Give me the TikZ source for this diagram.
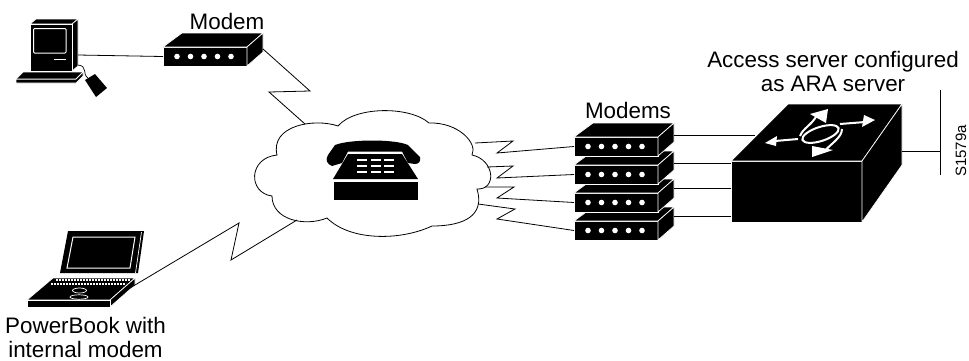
\documentclass[tikz,border=0pt]{standalone}
\usepackage{fontspec}
\setmainfont{Liberation Sans}
\usetikzlibrary{calc, positioning}

\newcommand{\modembox}[2]{
    \node[modemfront] (#1) at (#2) {};
    \path[solidpart] (#1.north west) -- ++(19,-14) -- ++(81,0) -- (#1.north east) -- cycle;
    \path[solidpart] (#1.north east) -- ++(16,-14) -- ++(0,19) -- (#1.south east) -- cycle;
    \foreach \i in {0,...,4}
        \fill[white] ($(#1.west)+(14+13.5*\i,0)$) circle (2.8);
}

\begin{document}
\begin{tikzpicture}[x=1pt, y=-1pt,
        solidpart/.style={fill=black, draw=white, line width=0.7pt},
        modemfront/.style={solidpart, rectangle, minimum width=84pt, minimum height=19pt, inner sep=0pt, outer sep=0pt},
        link/.style={draw=black, line width=0.8pt, line join=miter},
        hollow/.style={draw=white, line width=1pt},
        label/.style={font=\fontsize{22.4}{24}\selectfont, align=center, inner sep=0pt}]
        \useasboundingbox (0,0) rectangle (969,360);

        \coordinate (macport) at (78,55);
        \coordinate (bookport) at (130,288);
        \coordinate (cloudtop) at (305,124);
        \coordinate (cloudbottom) at (297,220);
        \coordinate (cloudr1) at (475,143);
        \coordinate (cloudr2) at (487,167);
        \coordinate (cloudr3) at (485,187);
        \coordinate (cloudr4) at (478,204);
        \coordinate (tick1) at (940,90);
        \coordinate (tick2) at (940,175);
        \coordinate (tickmid) at (940,151);

        % cloud
        \draw[line width=0.8pt] (338,126)
            .. controls (355,106) and (410,106) .. (429,123)
            .. controls (458,122) and (478,143) .. (472,155)
            .. controls (495,160) and (497,190) .. (477,189)
            .. controls (485,215) and (465,226) .. (432,226)
            .. controls (400,241) and (350,241) .. (327,218)
            .. controls (305,227) and (272,220) .. (272,196)
            .. controls (248,193) and (248,158) .. (277,155)
            .. controls (270,125) and (315,118) .. cycle;

        % telephone
        \node[solidpart, rectangle, minimum width=85pt, minimum height=19pt, inner sep=0pt] (phone) at (375.5,190.5) {};
        \fill (333,179) -- (348,154) -- (402,154) -- (418,179) -- cycle;
        \fill (332,166) .. controls (327,164) and (325,160) .. (328,155)
            -- (335,145) .. controls (350,139) and (395,139) .. (408,145)
            -- (420,157) .. controls (421,161) and (419,164) .. (415,164)
            -- (408,163) -- (402,151.5) -- (348,151.5) -- (342,163) -- cycle;
        \foreach \r in {159,165,171}
            \foreach \c in {357,371,384}
                \fill[white] (\c,\r) rectangle ++(9.5,2.4);

        % computer
        \path[solidpart] (30,24) -- (36,19) -- (78,19) -- (72,24) -- cycle;
        \path[solidpart] (72,24) -- (78,19) -- (78,66) -- (72,71) -- cycle;
        \node[solidpart, rectangle, minimum width=42pt, minimum height=47pt, inner sep=0pt, outer sep=0pt] (mac) at (51,47.5) {};
        \draw[hollow, rounded corners=1pt] (33.5,28.5) rectangle (66,53);
        \draw[hollow] (54,59) -- (66,59);
        \path[solidpart] (16,79) -- (23,72) -- (83,72) -- (83,76) -- (76,83) -- (16,83) -- cycle;
        \draw[hollow] (16,79) -- (76,79) -- (83,72);
        \fill (85,80) -- (95,74) -- (107,88) -- (96,97) -- cycle;
        \draw[line width=0.7pt] (78,65) .. controls (88,66) and (82,74) .. (88,78);

        % powerbook
        \fill (68,231) -- (144,231) -- (138,273) -- (60,273) -- cycle;
        \draw[hollow] (73,237) -- (135,237) -- (130,268) -- (67,268) -- cycle;
        \draw[white, line width=0.7pt] (141.5,232) -- (135.5,273);
        \path[solidpart] (27,300) -- (53,278) -- (135,278) -- (110,300) -- cycle;
        \path[solidpart] (110,300) -- (135,278) -- (135,285) -- (110,307) -- cycle;
        \node[solidpart, rectangle, minimum width=83pt, minimum height=7pt, inner sep=0pt, outer sep=0pt] (book) at (68.5,303.5) {};
        \draw[white, line width=1.2pt, dash pattern=on 2pt off 1pt] (56,280) -- (130,280);
        \draw[white, line width=1.2pt, dash pattern=on 2pt off 1pt] (51,284) -- (126,284);
        \draw[white, line width=0.7pt] (79.5,290.5) ellipse [x radius=7pt, y radius=2.5pt];
        \draw[white, line width=0.7pt] (79,297) ellipse [x radius=9pt, y radius=2.2pt];

        % modems
        \modembox{modema}{205,56.5}
        \modembox{modeme}{616,230.5}
        \modembox{modemd}{616,202.5}
        \modembox{modemc}{616,174.5}
        \modembox{modemb}{616,146.5}

        % access server
        \node[solidpart, rectangle, minimum width=131pt, minimum height=61pt, inner sep=0pt, outer sep=0pt] (server) at (796.5,191.5) {};
        \path[solidpart] (server.north west) -- (788,104) -- (902,104) -- (server.north east) -- cycle;
        \path[solidpart] (server.north east) -- (902,104) -- (902,165) -- (server.south east) -- cycle;
        \draw[white, line width=2pt] (820.5,134) ellipse [x radius=19pt, y radius=7pt, rotate=18];
        \draw[white, line width=2pt] (798,139) -- (775,141);
        \fill[white] (765,143) -- (777,136) -- (776,146) -- cycle;
        \draw[white, line width=2pt] (840,124) -- (865,122);
        \fill[white] (875,120) -- (864,115) -- (862,127) -- cycle;
        \draw[white, line width=2pt] (800,136) .. controls (803,128) and (812,125) .. (817,115);
        \fill[white] (810,114) -- (828,109) -- (826,123) -- cycle;
        \draw[white, line width=2pt] (842,129) .. controls (842,138) and (830,144) .. (824,152);
        \fill[white] (812,157) -- (812,146) -- (833,150) -- cycle;

        % connectors
        \draw[link] (macport) -- (modema.west);
        \draw[link] ($(modema.north east)+(16,2)$) -- (310,91) -- (269,92) -- (cloudtop);
        \draw[link] (bookport) -- (239,223) -- (231,260) -- (cloudbottom);
        \draw[link] (cloudr1) -- (513,141) -- (497,153) -- (modemb.west);
        \draw[link] (cloudr2) -- (513,166) -- (497,178) -- (modemc.west);
        \draw[link] (cloudr3) -- (514,187) -- (497,198) -- (modemd.west);
        \draw[link] (cloudr4) -- (515,209) -- (497,219) -- (modeme.west);
        \draw[link] ($(modemb.north east)+(16,-2)$) -- (755,135);
        \draw[link] ($(modemc.north east)+(16,-2)$) -- (server.west |- 0,163);
        \draw[link] ($(modemd.north east)+(16,-5)$) -- (server.west |- 0,188);
        \draw[link] ($(modeme.north east)+(16,-5)$) -- (server.west |- 0,216);
        \draw[link] (902,151) -- (tickmid);
        \draw[link] (tick1) -- (tick2);

        % labels
        \node[label] (modemlabel) at (227,21) {Modem};
        \node[label] (modemslabel) at (628,110) {Modems};
        \node[label] (serverlabel) at (833,71.5) {Access server configured\\as ARA server};
        \node[label] (booklabel) at (85.5,337) {PowerBook with\\internal modem};
        \node[font=\fontsize{15}{15}\selectfont, rotate=90, inner sep=0pt] (figid) at (961,151) {S1579a};
\end{tikzpicture}
\end{document}
